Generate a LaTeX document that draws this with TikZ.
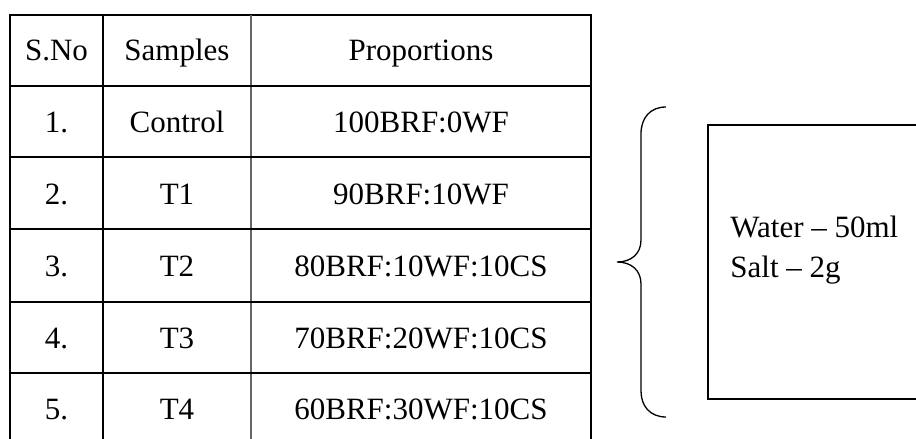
\documentclass[tikz,border=0pt]{standalone}
\usepackage{fontspec}
\setmainfont{Liberation Serif}
\tikzset{
  rule/.style={line width=0.65pt, black},
  softrule/.style={line width=0.6pt, black!60},
  cell/.style={anchor=base, inner sep=0pt, font=\fontsize{15.5}{19}\selectfont},
  boxtext/.style={anchor=base west, inner sep=0pt, font=\fontsize{15.5}{19}\selectfont},
}
\begin{document}
\begin{tikzpicture}[x=0.5pt,y=-0.5pt]
\useasboundingbox (0,0) rectangle (916,439);
% table lines
\draw[rule] (10,439) -- (10,15) -- (591,15) -- (591,439);
\draw[rule] (103,15) -- (103,439);
\draw[softrule] (251,15) -- (251,439);
\foreach \y in {86,157,229,302,373} \draw[rule] (10,\y) -- (591,\y);
% header
\node[cell] (h1) at (56.5,61) {S.No};
\node[cell] (h2) at (177,61) {Samples};
\node[cell] (h3) at (421,61) {Proportions};
% rows
\node[cell] (n1) at (56.5,132) {1.};
\node[cell] (s1) at (177,132) {Control};
\node[cell] (p1) at (421,132) {100BRF:0WF};
\node[cell] (n2) at (56.5,204) {2.};
\node[cell] (s2) at (177,204) {T1};
\node[cell] (p2) at (421,204) {90BRF:10WF};
\node[cell] (n3) at (56.5,276) {3.};
\node[cell] (s3) at (177,276) {T2};
\node[cell] (p3) at (421,276) {80BRF:10WF:10CS};
\node[cell] (n4) at (56.5,348) {4.};
\node[cell] (s4) at (177,348) {T3};
\node[cell] (p4) at (421,348) {70BRF:20WF:10CS};
\node[cell] (n5) at (56.5,419) {5.};
\node[cell] (s5) at (177,419) {T4};
\node[cell] (p5) at (421,419) {60BRF:30WF:10CS};
% brace
\draw[rule] (666,107) .. controls (650,107) and (641,118) .. (641,134) -- (641,240)
  .. controls (641,254) and (631,262) .. (617,262)
  .. controls (631,262) and (641,270) .. (641,284) -- (641,391)
  .. controls (641,406) and (650,417) .. (666,417);
% box
\draw[rule] (916,125) -- (708,125) -- (708,399) -- (916,399);
\node[boxtext] (w) at (730,237) {Water -- 50ml};
\node[boxtext] (s) at (730,277) {Salt -- 2g};
\end{tikzpicture}
\end{document}
